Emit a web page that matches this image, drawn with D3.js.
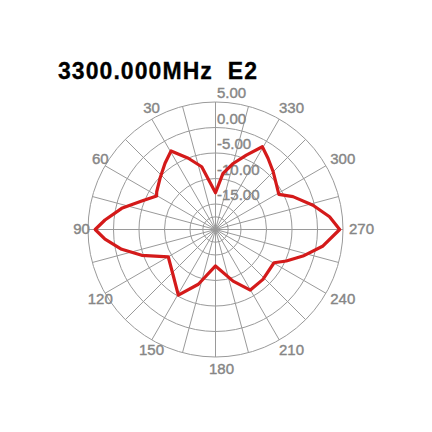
<!DOCTYPE html>
<html>
<head>
<meta charset="utf-8">
<script src="https://cdn.jsdelivr.net/npm/d3@7"></script>
<style>
  body { margin: 0; background: #fff; }
</style>
</head>
<body>
<svg></svg>
<script>
// pattern readings: angle (deg, counter-clockwise from top) and gain (dB)
let angles = [0, 12.4, 20.9, 29.5, 37.3, 47.3, 57.3, 60.3, 68.9, 77.3, 85.1, 90,
  95, 101.9, 109.3, 120, 137.8, 150.5, 162.6, 180, 198.8, 209.9, 223.6, 240.4,
  246, 253.1, 261.3, 270, 276.4, 284, 293, 299, 306, 315, 323.6, 330.5, 337.5, 345, 352.4]
let gains = [-12.8, -7.4, -5.05, -2.3, -3.67, -5.2, -6.3, -6.7, -4.5, -1.15, 1.75, 3.6,
  1.75, -1.2, -4.67, -9.3, -7.7, -5.2, -8.75, -12.85, -9.3, -6.3, -6.5, -6.8,
  -4.8, -2.08, 1.33, 4.35, 2.5, -0.3, -3.5, -5.8, -5.2, -4.0, -2.65, -1.35, -4.2, -6.6, -8.9]

let ringValues = [-17.5, -15, -10, -5, 0, 5]
let ringLabels = ['-15.00', '-10.00', '-5.00', '0.00', '5.00']
let labelValues = [-15, -10, -5, 0, 5]
let angleTicks = [30, 60, 90, 120, 150, 180, 210, 240, 270, 300, 330]
let spokeStep = 15
let title = '3300.000MHz  E2'

let width = 432
let height = 432
let cx = 215.5
let cy = 229.5

let svg = d3.select('svg')
  .attr('width', width)
  .attr('height', height)

let rScale = d3.scaleLinear()
  .domain([-20, 5])
  .range([0, 127.5])

// angle in radians, clockwise from top for d3 (data is counter-clockwise)
let aScale = d3.scaleLinear()
  .domain([0, 360])
  .range([0, -2 * Math.PI])

let g = svg.append('g')
  .attr('transform', 'translate(' + cx + ',' + cy + ')')

let gridColor = '#9a9a9a'
let textColor = '#868686'

// rings
g.selectAll('circle.ring')
  .data(ringValues)
  .enter()
  .append('circle')
  .attr('class', 'ring')
  .attr('r', (v) => rScale(v))
  .attr('fill', 'none')
  .attr('stroke', gridColor)
  .attr('stroke-width', 1)

// spokes
let spokes = d3.range(0, 360, spokeStep)
g.selectAll('line.spoke')
  .data(spokes)
  .enter()
  .append('line')
  .attr('class', 'spoke')
  .attr('x1', 0)
  .attr('y1', 0)
  .attr('x2', (a) => Math.sin(aScale(a)) * rScale(5))
  .attr('y2', (a) => -Math.cos(aScale(a)) * rScale(5))
  .attr('stroke', gridColor)
  .attr('stroke-width', 1)

// radial value labels
g.selectAll('text.rlabel')
  .data(labelValues)
  .enter()
  .append('text')
  .attr('class', 'rlabel')
  .attr('x', 1.5)
  .attr('y', (v) => -rScale(v) - 4)
  .attr('font-family', 'Liberation Sans, Arial, sans-serif')
  .attr('font-size', 15)
  .attr('fill', textColor)
  .attr('stroke', textColor)
  .attr('stroke-width', 0.4)
  .text((v, i) => ringLabels[i])

// angle labels
let labelR = 140
g.selectAll('text.alabel')
  .data(angleTicks)
  .enter()
  .append('text')
  .attr('class', 'alabel')
  .attr('x', (a) => Math.sin(aScale(a)) * labelR + 6)
  .attr('y', (a) => -Math.cos(aScale(a)) * labelR - 1)
  .attr('text-anchor', 'middle')
  .attr('dominant-baseline', 'central')
  .attr('font-family', 'Liberation Sans, Arial, sans-serif')
  .attr('font-size', 15)
  .attr('fill', textColor)
  .attr('stroke', textColor)
  .attr('stroke-width', 0.4)
  .text((a) => a)

// pattern
let points = angles.map((a, i) => [aScale(a), rScale(gains[i])])
let line = d3.lineRadial()
  .angle((d) => d[0])
  .radius((d) => d[1])
  .curve(d3.curveLinearClosed)

g.append('path')
  .datum(points)
  .attr('d', line)
  .attr('fill', 'none')
  .attr('stroke', '#d41a1a')
  .attr('stroke-width', 3.2)
  .attr('stroke-linejoin', 'round')

// title
svg.append('text')
  .attr('x', 58)
  .attr('y', 79)
  .attr('font-family', 'Liberation Sans, Arial, sans-serif')
  .attr('font-weight', 'bold')
  .attr('font-size', 23)
  .attr('textLength', 199)
  .attr('lengthAdjust', 'spacing')
  .style('white-space', 'pre')
  .attr('fill', '#000')
  .attr('stroke', '#000')
  .attr('stroke-width', 0.3)
  .text(title)
</script>
</body>
</html>
